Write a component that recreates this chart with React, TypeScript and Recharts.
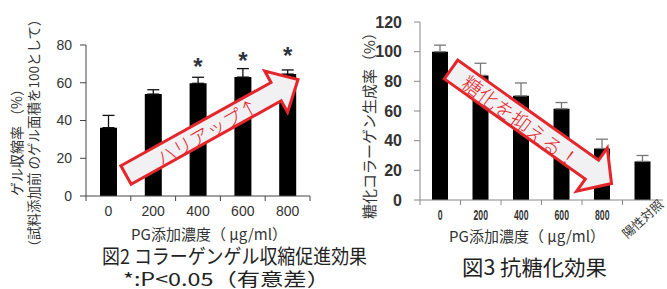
import React from "react";
import { Bar, ComposedChart, ErrorBar, Line, XAxis, YAxis } from "recharts";

// 図2 コラーゲンゲル収縮
const doses = ["0", "200", "400", "600", "800"];
const contraction = [36.2, 54.0, 59.7, 63.0, 64.6];
const contractionErr = [6.5, 2.3, 3.2, 4.5, 2.2];
const significance: (number | null)[] = [null, null, 70, 73, 76];
const contractionTicks = [0, 20, 40, 60, 80];

// 図3 抗糖化
const glyCategories = ["0", "200", "400", "600", "800", "陽性対照"];
const glycation = [100, 84, 70.2, 61.5, 34.7, 26];
const glycationErr = [4.4, 8.2, 8.7, 4.2, 6.3, 4];
const glycationTicks = [0, 20, 40, 60, 80, 100, 120];

const contractionData = doses.map((d, i) => ({
  dose: d,
  value: contraction[i],
  err: [0, contractionErr[i]],
  sig: significance[i],
}));

const glycationData = glyCategories.map((d, i) => ({
  dose: d,
  value: glycation[i],
  err: [0, glycationErr[i]],
}));

const JP = "'Noto Sans CJK JP', 'Noto Sans', sans-serif";
const NUM = "'Liberation Sans', Arial, sans-serif";
const RED = "#e4262b";

const LEFT_BAND = 224 / doses.length;
const RIGHT_BAND = 243 / glyCategories.length;

function LeftTick(props: any) {
  const { x, y, payload, index } = props;
  const half = LEFT_BAND / 2;
  return (
    <g>
      <line x1={x - half} y1={y} x2={x - half} y2={y + 5} stroke="#444" />
      {index === doses.length - 1 && (
        <line x1={x + half} y1={y} x2={x + half} y2={y + 5} stroke="#444" />
      )}
      <text x={x} y={y + 20} textAnchor="middle" fill="#333" fontSize={14} fontFamily={NUM}>
        {payload.value}
      </text>
    </g>
  );
}

function RightTick(props: any) {
  const { x, y, payload, index } = props;
  const half = RIGHT_BAND / 2;
  const last = index === glyCategories.length - 1;
  return (
    <g>
      <line x1={x - half} y1={y} x2={x - half} y2={y + 5} stroke="#888" />
      {last ? (
        <g transform={`translate(${x},${y + 19}) rotate(-42)`}>
          <text x={0} y={4.5} textAnchor="middle" fill="#333" fontSize={12.5} fontFamily={JP}>
            {payload.value}
          </text>
        </g>
      ) : (
        <text
          x={0}
          y={0}
          transform={`translate(${x},${y + 20}) scale(0.62,1)`}
          textAnchor="middle"
          fill="#333"
          fontSize={14}
          fontWeight="bold"
          fontFamily={NUM}
        >
          {payload.value}
        </text>
      )}
    </g>
  );
}

function Star(props: any) {
  const { cx, cy, index, value } = props;
  if (value == null || cy == null) return <g key={`s${index}`} />;
  return (
    <text
      key={`s${index}`}
      x={cx}
      y={cy + 11}
      textAnchor="middle"
      fill="#2f3340"
      fontSize={24}
      fontWeight="bold"
      fontFamily={NUM}
    >
      *
    </text>
  );
}

function arrow(x1: number, y1: number, x2: number, y2: number, sw: number, hw: number, hl: number) {
  const L = Math.hypot(x2 - x1, y2 - y1);
  const ux = (x2 - x1) / L;
  const uy = (y2 - y1) / L;
  const nx = -uy;
  const ny = ux;
  const bx = x2 - ux * hl;
  const by = y2 - uy * hl;
  const p = [
    [x1 + nx * sw, y1 + ny * sw],
    [bx + nx * sw, by + ny * sw],
    [bx + nx * hw, by + ny * hw],
    [x2, y2],
    [bx - nx * hw, by - ny * hw],
    [bx - nx * sw, by - ny * sw],
    [x1 - nx * sw, y1 - ny * sw],
  ];
  return p.map((q) => q.map((v) => v.toFixed(1)).join(",")).join(" ");
}

function Overlay() {
  return (
    <svg
      width={667}
      height={289}
      style={{ position: "absolute", left: 0, top: 0, pointerEvents: "none" }}
    >
      {/* left axis titles */}
      <text
        transform="translate(16,139) rotate(-90)"
        textAnchor="middle"
        dominantBaseline="central"
        fontSize={14}
        fill="#333"
        fontFamily={JP}
      >
        ゲル収縮率 （%）
      </text>
      <text
        transform="translate(33,133) rotate(-90)"
        textAnchor="middle"
        dominantBaseline="central"
        fontSize={13.5}
        fill="#333"
        fontFamily={JP}
      >
        （試料添加前 のゲル面積を100として）
      </text>
      <text x={209} y={233} textAnchor="middle" dominantBaseline="central" fontSize={15} fill="#333" fontFamily={JP}>
        PG添加濃度（ µg/ml）
      </text>
      <text
        x={102}
        y={255.5}
        dominantBaseline="central"
        fontSize={20}
        fill="#222"
        fontFamily={JP}
        textLength={265}
        lengthAdjust="spacingAndGlyphs"
      >
        図2 コラーゲンゲル収縮促進効果
      </text>
      <text
        x={123}
        y={277.5}
        dominantBaseline="central"
        fontSize={18}
        fill="#222"
        fontFamily={JP}
        textLength={207}
        lengthAdjust="spacingAndGlyphs"
      >
        *:P&lt;0.05（有意差）
      </text>

      {/* right axis titles */}
      <text
        transform="translate(368,122) rotate(-90)"
        textAnchor="middle"
        dominantBaseline="central"
        fontSize={15}
        fill="#333"
        fontFamily={JP}
      >
        糖化コラーゲン生成率（%）
      </text>
      <text x={527} y={235} textAnchor="middle" dominantBaseline="central" fontSize={15} fill="#333" fontFamily={JP}>
        PG添加濃度（ µg/ml）
      </text>
      <text
        x={462}
        y={266}
        dominantBaseline="central"
        fontSize={21}
        fill="#222"
        fontFamily={JP}
        textLength={145}
        lengthAdjust="spacingAndGlyphs"
      >
        図3  抗糖化効果
      </text>

      {/* arrows */}
      <polygon
        points={arrow(126, 175, 298, 79.5, 10.5, 23.5, 25)}
        fill="#f1f1f3"
        stroke={RED}
        strokeWidth={3}
        strokeLinejoin="miter"
      />
      <text
        transform="translate(207,131) rotate(-29.2)"
        textAnchor="middle"
        dominantBaseline="central"
        fontSize={19}
        fill={RED}
        fontFamily={JP}
        fontWeight={300}
      >
        ハリアップ↑
      </text>
      <polygon
        points={arrow(451, 69.5, 611.5, 183.5, 11.5, 26.5, 24)}
        fill="#f1f1f3"
        stroke={RED}
        strokeWidth={3}
        strokeLinejoin="miter"
      />
      <text
        transform="translate(521,121) rotate(36.5)"
        textAnchor="middle"
        dominantBaseline="central"
        fontSize={20}
        fill={RED}
        fontFamily={JP}
        fontWeight={300}
      >
        糖化を抑える！
      </text>
    </svg>
  );
}

export default function App() {
  return (
    <div
      style={{
        position: "absolute",
        left: 0,
        top: 0,
        width: 667,
        height: 289,
        background: "#fff",
        overflow: "hidden",
      }}
    >
      <div style={{ position: "absolute", left: 0, top: 0 }}>
        <ComposedChart
          width={330}
          height={289}
          data={contractionData}
          margin={{ top: 45, right: 20, bottom: 63, left: 0 }}
        >
          <XAxis
            dataKey="dose"
            height={30}
            stroke="#444"
            tickSize={0}
            tickMargin={0}
            tick={<LeftTick />}
            interval={0}
          />
          <YAxis
            width={86}
            domain={[0, 80]}
            ticks={contractionTicks}
            stroke="#444"
            tickSize={6}
            tickMargin={8}
            tick={{ fill: "#333", fontSize: 14, fontFamily: NUM }}
          />
          <Bar dataKey="value" fill="#000" barSize={17} isAnimationActive={false}>
            <ErrorBar dataKey="err" width={6} stroke="#111" strokeWidth={1.3} />
          </Bar>
          <Line
            dataKey="sig"
            stroke="none"
            dot={Star}
            activeDot={false}
            isAnimationActive={false}
          />
        </ComposedChart>
      </div>
      <div style={{ position: "absolute", left: 330, top: 0 }}>
        <ComposedChart
          width={337}
          height={289}
          data={glycationData}
          margin={{ top: 22, right: 4, bottom: 59, left: 0 }}
          style={{ overflow: "visible" }}
        >
          <XAxis
            dataKey="dose"
            height={30}
            stroke="#888"
            tickSize={0}
            tickMargin={0}
            tick={<RightTick />}
            interval={0}
          />
          <YAxis
            width={90}
            domain={[0, 120]}
            ticks={glycationTicks}
            stroke="#888"
            tickSize={6}
            tickMargin={12}
            tick={{ fill: "#333", fontSize: 16, fontWeight: "bold", fontFamily: NUM }}
          />
          <Bar dataKey="value" fill="#000" barSize={16} isAnimationActive={false}>
            <ErrorBar dataKey="err" width={6} stroke="#777" strokeWidth={1.3} />
          </Bar>
        </ComposedChart>
      </div>
      <Overlay />
    </div>
  );
}
